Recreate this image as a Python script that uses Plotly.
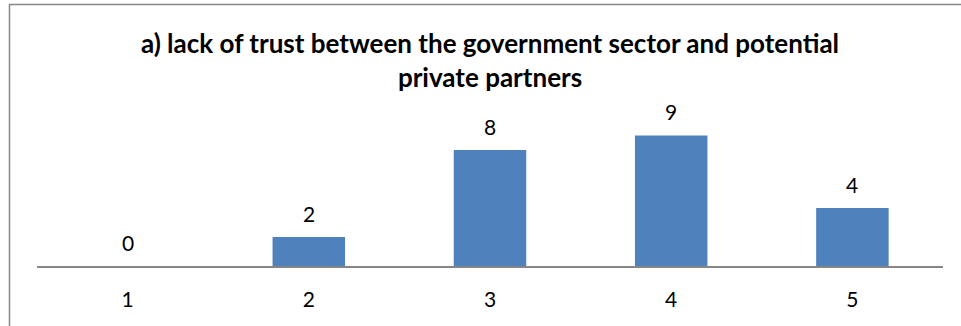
import plotly.graph_objects as go

# Survey responses for item (a), rated on a 1-5 scale
categories = ["1", "2", "3", "4", "5"]
counts = [0, 2, 8, 9, 4]
chart_title = "a) lack of trust between the government sector and potential<br>private partners"

W, H = 961, 326
M_L, M_R, M_T, M_B = 37, 18, 121, 60
plot_w = W - M_L - M_R
plot_h = H - M_T - M_B

BAR_COLOR = "#4F81BD"
AXIS_COLOR = "#868686"
FONT = "Lato, Carlito, Calibri, sans-serif"


def px_to_paper_x(px):
    return (px - M_L) / plot_w


def px_to_paper_y(py):
    return 1 - (py - M_T) / plot_h


fig = go.Figure(
    go.Bar(
        x=categories,
        y=counts,
        marker=dict(color=BAR_COLOR, line=dict(width=0)),
        hoverinfo="skip",
    )
)

# Value labels sitting above each bar
for i, val in enumerate(counts):
    fig.add_annotation(
        x=i, y=val, xref="x", yref="y",
        text=str(val), showarrow=False,
        yanchor="middle", yshift=24,
        font=dict(family=FONT, size=21, color="#000000"),
    )

# Chart frame (top and left edges fall inside the page)
fig.add_shape(
    type="rect", xref="paper", yref="paper",
    x0=px_to_paper_x(9.5), x1=px_to_paper_x(W + 20),
    y0=px_to_paper_y(H + 20), y1=px_to_paper_y(4.5),
    line=dict(color="#878787", width=1.5),
    fillcolor="rgba(0,0,0,0)", layer="below",
)

fig.update_layout(
    width=W, height=H,
    margin=dict(l=M_L, r=M_R, t=M_T, b=M_B, pad=0, autoexpand=False),
    paper_bgcolor="white", plot_bgcolor="white",
    showlegend=False,
    bargap=0.6,
    title=dict(
        text=chart_title,
        x=px_to_paper_x(490), xref="paper", xanchor="center",
        y=1 - 53 / H, yref="container", yanchor="middle",
        automargin=False,
        font=dict(family=FONT, size=26, color="#000000", weight="bold"),
    ),
    xaxis=dict(
        type="category", automargin=False,
        showline=True, linecolor=AXIS_COLOR, linewidth=1.5,
        showgrid=False, zeroline=False, ticks="",
        ticklabelstandoff=14,
        tickfont=dict(family=FONT, size=21, color="#000000"),
    ),
    yaxis=dict(
        range=[0, 10], visible=False, showgrid=False, zeroline=False,
        automargin=False,
    ),
)

fig.write_html("out.html")
